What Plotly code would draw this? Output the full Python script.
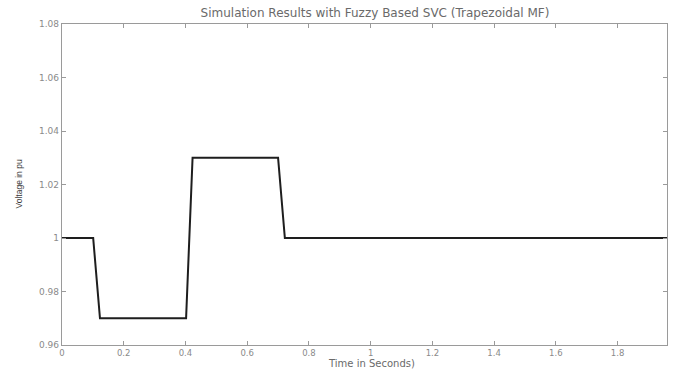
import plotly.graph_objects as go

# Bus voltage response (pu) under the fuzzy-based SVC, piecewise breakpoints
time_s = [0.0, 0.101, 0.123, 0.402, 0.423, 0.700, 0.722, 1.96]
voltage_pu = [1.0, 1.0, 0.97, 0.97, 1.03, 1.03, 1.0, 1.0]

x_ticks = [0, 0.2, 0.4, 0.6, 0.8, 1, 1.2, 1.4, 1.6, 1.8]
x_tick_text = ["0", "0.2", "0.4", "0.6", "0.8", "1", "1.2", "1.4", "1.6", "1.8"]
y_ticks = [0.96, 0.98, 1.0, 1.02, 1.04, 1.06, 1.08]
y_tick_text = ["0.96", "0.98", "1", "1.02", "1.04", "1.06", "1.08"]

wide_font = "DejaVu Sans, Verdana, sans-serif"

fig = go.Figure()
fig.add_trace(go.Scatter(
    x=time_s, y=voltage_pu, mode="lines",
    line=dict(color="#1e1e1e", width=2),
    hoverinfo="skip", showlegend=False,
))

fig.update_layout(
    width=673, height=369,
    margin=dict(l=62, r=6, t=24, b=24, autoexpand=False),
    paper_bgcolor="white", plot_bgcolor="white",
    title=dict(
        text="Simulation Results with Fuzzy Based SVC (Trapezoidal MF)",
        x=375 / 673, xref="container", xanchor="center",
        y=1 - 13 / 369, yref="container", yanchor="middle",
        font=dict(family=wide_font, size=12, color="#6a6a6a"),
    ),
    xaxis=dict(
        range=[0, 1.96], tickvals=x_ticks, ticktext=x_tick_text,
        showgrid=False, zeroline=False, automargin=False,
        showline=True, linecolor="#9a9a9a", linewidth=1.3, mirror="ticks",
        ticks="inside", ticklen=4, tickcolor="#9a9a9a",
        tickfont=dict(family=wide_font, size=8.5, color="#8a8a8a"),
    ),
    yaxis=dict(
        range=[0.96, 1.08], tickvals=y_ticks, ticktext=y_tick_text,
        showgrid=False, zeroline=False, automargin=False,
        showline=True, linecolor="#9a9a9a", linewidth=1.3, mirror="ticks",
        ticks="inside", ticklen=4, tickcolor="#9a9a9a",
        tickfont=dict(family=wide_font, size=9, color="#8a8a8a"),
    ),
    annotations=[
        dict(text="Time in Seconds)", xref="paper", yref="paper",
             x=(371 - 62) / 605, y=-25 / 321, xanchor="center", yanchor="bottom",
             showarrow=False, borderpad=0,
             font=dict(family=wide_font, size=10, color="#6a6a6a")),
        dict(text="Voltage in pu", xref="paper", yref="paper",
             x=-44 / 605, y=0.5, xanchor="center", yanchor="middle",
             textangle=-90, showarrow=False,
             font=dict(family="Liberation Sans, Arial, sans-serif", size=8.5, color="#3a3a3a")),
    ],
)

fig.write_html("out.html")
